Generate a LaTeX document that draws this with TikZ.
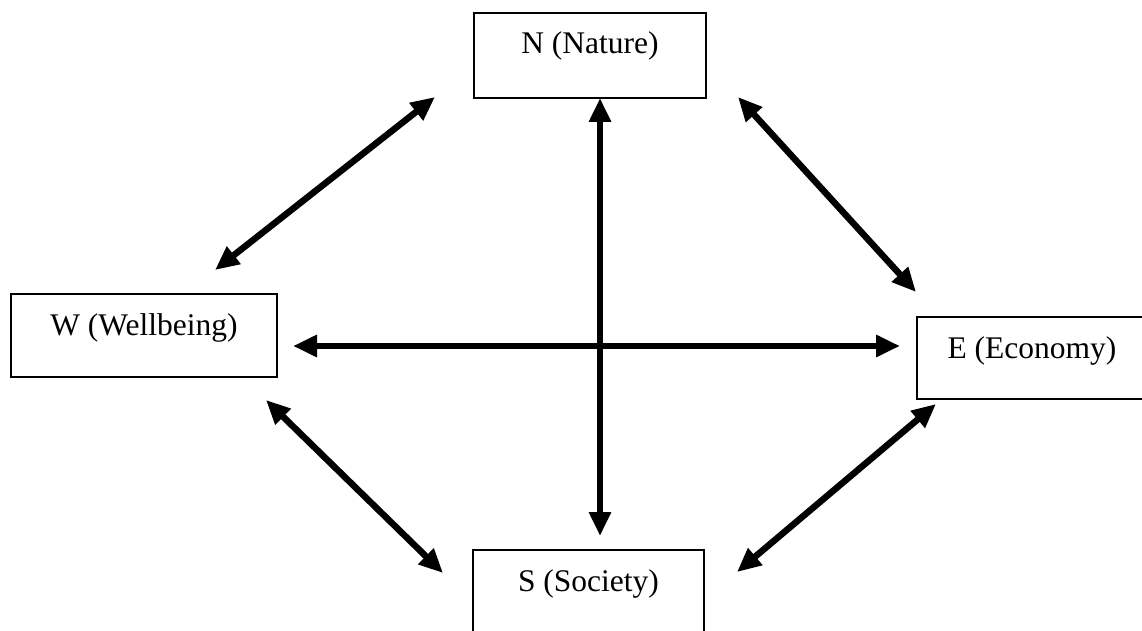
\documentclass[tikz,border=0pt]{standalone}
\usepackage{fontspec}
\setmainfont{Liberation Serif}
\usetikzlibrary{arrows.meta}
\begin{document}
\begin{tikzpicture}[x=1pt,y=-1pt,
  box/.style={draw=black, line width=2pt, inner sep=0pt, text height=41pt,
    font=\fontsize{31.5}{36}\selectfont, anchor=north west},
  link/.style={line width=6.5pt, {Triangle[length=24pt,width=21pt]}-{Triangle[length=24pt,width=21pt]}}]
\useasboundingbox (0,0) rectangle (1142,631);
\node[box, minimum width=232pt, text depth=44pt] (N) at (473,12) {N (Nature)};
\node[box, minimum width=266pt, text depth=42pt] (W) at (10,293) {W (Wellbeing)};
\node[box, minimum width=230pt, text depth=41pt] (E) at (916,316) {E (Economy)};
\node[box, minimum width=231pt, text depth=60pt] (S) at (472,549) {S (Society)};
\coordinate (wn1) at (215,270); \coordinate (wn2) at (435,97);
\coordinate (ne1) at (738,97);  \coordinate (ne2) at (916,292);
\coordinate (we1) at (293,346); \coordinate (we2) at (900,346);
\coordinate (ns1) at (600,98);  \coordinate (ns2) at (600,536);
\coordinate (ws1) at (266,400); \coordinate (ws2) at (443,573);
\coordinate (se1) at (737,572); \coordinate (se2) at (936,404);
\draw[link] (wn1) -- (wn2);
\draw[link] (ne1) -- (ne2);
\draw[link] (we1) -- (we2);
\draw[link] (ns1) -- (ns2);
\draw[link] (ws1) -- (ws2);
\draw[link] (se1) -- (se2);
\end{tikzpicture}
\end{document}
